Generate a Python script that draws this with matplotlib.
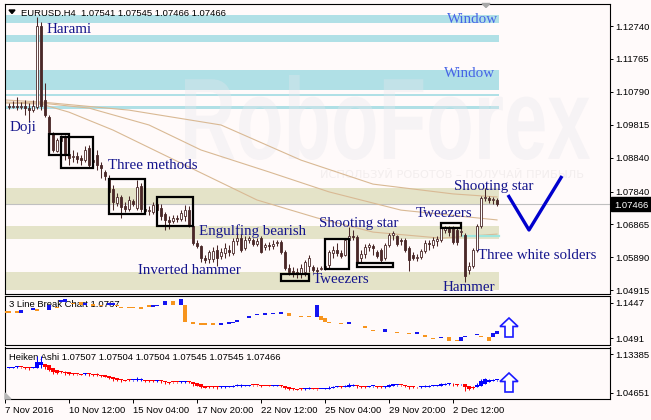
import numpy as np
import matplotlib
matplotlib.use("Agg")
import matplotlib.pyplot as plt
from matplotlib.patches import Rectangle, Polygon, PathPatch
from matplotlib.textpath import TextPath
from matplotlib.font_manager import FontProperties
from matplotlib.transforms import Affine2D, IdentityTransform

# ---------------- data: EURUSD H4 candles ----------------
opens = [1.1037, 1.1034, 1.1037, 1.1034, 1.1037, 1.1031, 1.1025, 1.1034, 1.1274, 1.1055,
         1.1005, 1.0957, 1.0904, 1.0934, 1.0946, 1.0895, 1.0886, 1.0889, 1.0883, 1.0877,
         1.0913, 1.0871, 1.0892, 1.0863, 1.0842, 1.0824, 1.0792, 1.0750, 1.0768, 1.0741,
         1.0732, 1.0756, 1.0735, 1.0800, 1.0732, 1.0726, 1.0723, 1.0747, 1.0735, 1.0718,
         1.0700, 1.0697, 1.0703, 1.0703, 1.0712, 1.0729, 1.0682, 1.0632, 1.0623, 1.0587,
         1.0584, 1.0584, 1.0611, 1.0593, 1.0602, 1.0611, 1.0602, 1.0638, 1.0646, 1.0617,
         1.0641, 1.0641, 1.0629, 1.0646, 1.0620, 1.0626, 1.0623, 1.0632, 1.0635, 1.0605,
         1.0558, 1.0549, 1.0546, 1.0540, 1.0546, 1.0564, 1.0561, 1.0552, 1.0555, 1.0558,
         1.0567, 1.0602, 1.0611, 1.0602, 1.0596, 1.0641, 1.0652, 1.0649, 1.0587, 1.0599,
         1.0620, 1.0623, 1.0605, 1.0611, 1.0587, 1.0626, 1.0655, 1.0652, 1.0641, 1.0641,
         1.0617, 1.0596, 1.0587, 1.0590, 1.0608, 1.0632, 1.0626, 1.0638, 1.0641, 1.0670,
         1.0676, 1.0676, 1.0670, 1.0664, 1.0655, 1.0552, 1.0564, 1.0611, 1.0682, 1.0765,
         1.0765, 1.0759, 1.0759]
highs = [1.1046, 1.1052, 1.1064, 1.1049, 1.1055, 1.1046, 1.1055, 1.1301, 1.1286, 1.1105,
         1.1011, 1.0960, 1.0943, 1.0951, 1.0951, 1.0913, 1.0907, 1.0901, 1.0892, 1.0919,
         1.0922, 1.0892, 1.0907, 1.0871, 1.0848, 1.0833, 1.0803, 1.0780, 1.0774, 1.0753,
         1.0771, 1.0762, 1.0818, 1.0809, 1.0738, 1.0741, 1.0753, 1.0759, 1.0747, 1.0723,
         1.0712, 1.0715, 1.0715, 1.0729, 1.0744, 1.0741, 1.0685, 1.0641, 1.0626, 1.0596,
         1.0611, 1.0620, 1.0626, 1.0617, 1.0632, 1.0626, 1.0646, 1.0664, 1.0658, 1.0652,
         1.0652, 1.0646, 1.0646, 1.0652, 1.0632, 1.0635, 1.0641, 1.0641, 1.0641, 1.0611,
         1.0570, 1.0561, 1.0558, 1.0570, 1.0581, 1.0596, 1.0567, 1.0561, 1.0564, 1.0570,
         1.0611, 1.0623, 1.0632, 1.0611, 1.0646, 1.0679, 1.0670, 1.0655, 1.0611, 1.0629,
         1.0632, 1.0629, 1.0611, 1.0617, 1.0632, 1.0661, 1.0667, 1.0655, 1.0646, 1.0646,
         1.0623, 1.0605, 1.0599, 1.0614, 1.0641, 1.0641, 1.0649, 1.0652, 1.0682, 1.0682,
         1.0682, 1.0682, 1.0676, 1.0676, 1.0661, 1.0575, 1.0617, 1.0688, 1.0771, 1.0795,
         1.0771, 1.0768, 1.0765]
lows = [1.1028, 1.1031, 1.1025, 1.1028, 1.1011, 1.0990, 1.1019, 1.1028, 1.1025, 1.1005,
        1.0957, 1.0901, 1.0901, 1.0916, 1.0877, 1.0863, 1.0871, 1.0868, 1.0863, 1.0871,
        1.0857, 1.0854, 1.0848, 1.0824, 1.0818, 1.0771, 1.0729, 1.0741, 1.0706, 1.0723,
        1.0726, 1.0741, 1.0729, 1.0723, 1.0721, 1.0715, 1.0718, 1.0721, 1.0700, 1.0670,
        1.0673, 1.0691, 1.0694, 1.0697, 1.0697, 1.0679, 1.0626, 1.0617, 1.0575, 1.0573,
        1.0573, 1.0575, 1.0564, 1.0584, 1.0587, 1.0593, 1.0596, 1.0626, 1.0605, 1.0611,
        1.0632, 1.0623, 1.0623, 1.0602, 1.0611, 1.0611, 1.0614, 1.0623, 1.0599, 1.0552,
        1.0537, 1.0531, 1.0528, 1.0528, 1.0534, 1.0546, 1.0546, 1.0543, 1.0552, 1.0552,
        1.0558, 1.0587, 1.0593, 1.0587, 1.0593, 1.0638, 1.0641, 1.0570, 1.0573, 1.0587,
        1.0608, 1.0596, 1.0587, 1.0573, 1.0581, 1.0620, 1.0641, 1.0623, 1.0626, 1.0605,
        1.0549, 1.0581, 1.0578, 1.0584, 1.0602, 1.0611, 1.0617, 1.0623, 1.0635, 1.0661,
        1.0652, 1.0629, 1.0626, 1.0652, 1.0516, 1.0540, 1.0558, 1.0605, 1.0676, 1.0756,
        1.0750, 1.0747, 1.0741]
closes = [1.1034, 1.1037, 1.1034, 1.1037, 1.1031, 1.1025, 1.1037, 1.1274, 1.1037, 1.1011,
          1.0960, 1.0907, 1.0937, 1.0946, 1.0895, 1.0883, 1.0889, 1.0880, 1.0877, 1.0907,
          1.0863, 1.0877, 1.0863, 1.0854, 1.0830, 1.0783, 1.0753, 1.0768, 1.0738, 1.0732,
          1.0759, 1.0747, 1.0797, 1.0732, 1.0726, 1.0729, 1.0744, 1.0729, 1.0712, 1.0700,
          1.0694, 1.0706, 1.0702, 1.0721, 1.0729, 1.0682, 1.0632, 1.0623, 1.0587, 1.0581,
          1.0605, 1.0608, 1.0587, 1.0605, 1.0617, 1.0605, 1.0638, 1.0646, 1.0611, 1.0641,
          1.0646, 1.0629, 1.0638, 1.0605, 1.0626, 1.0623, 1.0629, 1.0635, 1.0605, 1.0558,
          1.0546, 1.0543, 1.0540, 1.0558, 1.0575, 1.0587, 1.0552, 1.0549, 1.0558, 1.0564,
          1.0605, 1.0611, 1.0602, 1.0593, 1.0641, 1.0652, 1.0649, 1.0575, 1.0599, 1.0620,
          1.0626, 1.0617, 1.0593, 1.0581, 1.0626, 1.0655, 1.0661, 1.0629, 1.0638, 1.0611,
          1.0581, 1.0587, 1.0590, 1.0608, 1.0632, 1.0629, 1.0641, 1.0643, 1.0676, 1.0679,
          1.0664, 1.0635, 1.0635, 1.0667, 1.0534, 1.0564, 1.0611, 1.0682, 1.0765, 1.0768,
          1.0759, 1.0762, 1.07466]

# moving averages (sampled along the lines: bar index, price)
ma_slow_i = [-1, 8, 30, 53, 73, 91, 111, 122]
ma_slow_p = [1.1055, 1.1049, 1.1025, 1.0981, 1.0877, 1.0806, 1.0777, 1.0768]
ma_mid_i = [-1, 8, 20, 35, 48, 65, 80, 98, 122]
ma_mid_p = [1.1049, 1.1046, 1.1031, 1.0981, 1.0907, 1.0842, 1.0783, 1.0729, 1.0700]
ma_fast_i = [-1, 8, 15, 26, 47, 62, 77, 91, 108, 122]
ma_fast_p = [1.1046, 1.1043, 1.1019, 1.0966, 1.0845, 1.0759, 1.0706, 1.0664, 1.0646, 1.0658]

# support / resistance zones (low, high)
window_zones = [(1.1283, 1.1307), (1.1227, 1.1247), (1.1085, 1.1144), (1.1067, 1.1073), (1.1028, 1.1037)]
level_zones = [(1.0744, 1.0795), (1.0643, 1.0682), (1.0493, 1.0546)]

# pattern boxes: first bar, last bar, low, high
box_first = [11, 14, 26, 38, 69, 80, 88, 109]
box_last = [14, 20, 33, 45, 74, 84, 95, 112]
box_low = [1.0892, 1.0854, 1.0718, 1.0682, 1.0519, 1.0555, 1.0561, 1.0676]
box_high = [1.0954, 1.0946, 1.0821, 1.0768, 1.0540, 1.0643, 1.0573, 1.0691]

# 3 line break bricks: bar, low, high, up(1)/down(0)
lb_bar = [-1, 0, 2, 3, 6, 7, 10, 12, 13, 14, 16, 18, 19, 21, 23, 25, 26, 27, 28, 30,
          31, 33, 35, 36, 37, 39, 41, 43, 44, 46, 48, 49, 51, 53, 55, 56, 57, 60, 62, 64,
          66, 68, 70, 73, 75, 77, 78, 79, 80, 83, 85, 89, 91, 94, 97, 100, 102, 104, 106, 108,
          110, 112, 113, 114, 117, 118, 120, 121, 122]
lb_hi = [1.1222, 1.1222, 1.1209, 1.1249, 1.1303, 1.1276, 1.1385, 1.1331, 1.1520, 1.1547,
         1.1452, 1.1466, 1.1439, 1.1412, 1.1398, 1.1439, 1.1439, 1.1385, 1.1344, 1.1331,
         1.1331, 1.1317, 1.1385, 1.1385, 1.1398, 1.1493, 1.1493, 1.1547, 1.1385, 1.0924,
         1.0910, 1.0897, 1.0897, 1.0897, 1.0924, 1.0937, 1.0978, 1.1087, 1.1141, 1.1168,
         1.1168, 1.1195, 1.1168, 1.1087, 1.1087, 1.1385, 1.1087, 1.1033, 1.0924, 1.0897,
         1.0924, 1.0816, 1.0708, 1.0735, 1.0654, 1.0627, 1.0654, 1.0572, 1.0491, 1.0518,
         1.0518, 1.0437, 1.0518, 1.0545, 1.0600, 1.0545, 1.0518, 1.0627, 1.0681]
lb_lo = [1.1168, 1.1168, 1.1168, 1.1168, 1.1249, 1.1222, 1.1249, 1.1303, 1.1466, 1.1466,
         1.1412, 1.1385, 1.1385, 1.1371, 1.1358, 1.1385, 1.1398, 1.1358, 1.1303, 1.1303,
         1.1303, 1.1276, 1.1331, 1.1344, 1.1358, 1.1385, 1.1385, 1.1385, 1.0924, 1.0870,
         1.0856, 1.0843, 1.0843, 1.0843, 1.0883, 1.0897, 1.0937, 1.1033, 1.1101, 1.1114,
         1.1141, 1.1141, 1.1087, 1.1060, 1.1047, 1.1060, 1.0978, 1.0924, 1.0897, 1.0870,
         1.0870, 1.0762, 1.0681, 1.0654, 1.0627, 1.0600, 1.0600, 1.0518, 1.0464, 1.0491,
         1.0410, 1.0410, 1.0410, 1.0518, 1.0572, 1.0518, 1.0410, 1.0518, 1.0600]
lb_up = [0, 0, 0, 1, 1, 0, 1, 0, 1, 1, 0, 0, 1, 0, 0, 1, 1, 0, 0, 0,
         0, 0, 0, 1, 1, 1, 0, 1, 0, 0, 0, 0, 0, 1, 1, 1, 1, 1, 1, 1,
         1, 1, 0, 0, 0, 1, 0, 0, 0, 0, 1, 0, 0, 1, 0, 0, 1, 0, 0, 1,
         0, 0, 1, 1, 1, 0, 0, 1, 1]

price_ticks = [1.12740, 1.11765, 1.10790, 1.09815, 1.08840, 1.07840, 1.06865, 1.05890, 1.04915]
lb_ticks = [1.1447, 1.0491]
ha_ticks = [1.13385, 1.04651]
date_pos = [-1, 15, 31, 47, 63, 79, 95, 111]
date_labels = ["7 Nov 2016", "10 Nov 12:00", "15 Nov 04:00", "17 Nov 20:00",
               "22 Nov 12:00", "25 Nov 04:00", "29 Nov 20:00", "2 Dec 12:00"]
last_price = 1.07466

# ---------------- style ----------------
W, H = 651, 420
BG = "#fffafa"
CANDLE = "#4a2828"
LABEL = "#14148c"
plt.rcParams["font.family"] = ["Liberation Sans", "DejaVu Sans"]
SERIF = "Liberation Serif"

fig = plt.figure(figsize=(W / 100, H / 100), dpi=100)
fig.patch.set_facecolor(BG)


def px_axes(x0, y0, x1, y1):
    a = fig.add_axes([x0 / W, 1 - y1 / H, (x1 - x0) / W, (y1 - y0) / H])
    a.set_facecolor(BG)
    for s in a.spines.values():
        s.set_linewidth(0.8)
        s.set_color("black")
    a.set_xlim(-1.125, 150.125)
    a.yaxis.tick_right()
    a.tick_params(axis="y", direction="out", length=2.5, width=0.7, pad=1.5,
                  labelsize=6.8, colors="black")
    return a


def ptext(a, x, y, s, **kw):
    # text placed by pixel position (y from top)
    a.text(x, H - y, s, transform=IdentityTransform(), **kw)


ax = px_axes(4.5, 3.5, 609.5, 293.5)
ax_lb = px_axes(4.5, 296, 609.5, 345)
ax_ha = px_axes(4.5, 347.5, 609.5, 399)

ax.set_ylim(1.04822, 1.13406)
ax_lb.set_ylim(1.03015, 1.16284)
ax_ha.set_ylim(1.03307, 1.14841)

o = np.array(opens); h = np.array(highs); l = np.array(lows); c = np.array(closes)
n = len(c)
idx = np.arange(n)
right_edge = n - 0.5

# zones
for lo_, hi_ in window_zones:
    ax.add_patch(Rectangle((-1.125, lo_), right_edge + 1.125, hi_ - lo_, color="#b0e0e6", lw=0, zorder=1))
for lo_, hi_ in level_zones:
    ax.add_patch(Rectangle((-1.125, lo_), right_edge + 1.125, hi_ - lo_, color="#e4e3c8", lw=0, zorder=1))

# watermark
fp = FontProperties(family="Liberation Sans", weight="bold")
tp = TextPath((0, 0), "RoboForex", size=1, prop=fp)
ext = tp.get_extents()
wm_tr = Affine2D().translate(-ext.x0, -ext.y0).scale(405 / ext.width, 85 / ext.height).translate(185, H - 160)
ax.add_patch(PathPatch(wm_tr.transform_path(tp), transform=IdentityTransform(),
                       facecolor="#e6e6ec", edgecolor="none", alpha=0.35, zorder=1.5))
ptext(ax, 320, 178.5, "ИСПОЛЬЗУЙ РОБОТОВ – ПОЛУЧАЙ ПРИБЫЛЬ", fontsize=8.2,
      family="DejaVu Sans", color="#f3eeee", zorder=1.5)

# price line and moving averages
ax.axhline(last_price, color="#c0c0c0", lw=0.8, zorder=2)
for mi, mp in [(ma_slow_i, ma_slow_p), (ma_mid_i, ma_mid_p), (ma_fast_i, ma_fast_p)]:
    ax.plot(mi, mp, color="#d9b994", lw=0.8, zorder=2)
ax.plot([113.5, right_edge], [1.0652, 1.0652], color="#a0e6de", lw=1.6, zorder=2)

# candles
ax.vlines(idx, l, h, color=CANDLE, lw=0.75, zorder=3)
min_body = 0.0003
for i in idx:
    bot = min(o[i], c[i])
    ht = max(abs(c[i] - o[i]), min_body)
    bull = c[i] >= o[i]
    ax.add_patch(Rectangle((i - 0.35, bot), 0.7, ht, facecolor="white" if bull else CANDLE,
                           edgecolor=CANDLE, lw=0.6, zorder=4))

# pattern boxes
for b0, b1, blo, bhi in zip(box_first, box_last, box_low, box_high):
    ax.add_patch(Rectangle((b0 - 1.1, blo), b1 - b0 + 2.2, bhi - blo, fill=False,
                           edgecolor="black", lw=1.6, zorder=5))

# labels
lab = dict(family=SERIF, fontsize=10.8, color=LABEL, zorder=6)
ptext(ax, 47, 33, "Harami", **lab)
ptext(ax, 10, 131, "Doji", **lab)
ptext(ax, 108, 169, "Three methods", **lab)
ptext(ax, 199, 235, "Engulfing bearish", **lab)
ptext(ax, 138, 274, "Inverted hammer", **lab)
ptext(ax, 319, 227, "Shooting star", **lab)
ptext(ax, 313, 283, "Tweezers", **lab)
ptext(ax, 416, 217, "Tweezers", **lab)
ptext(ax, 454, 190, "Shooting star", **lab)
ptext(ax, 478, 259, "Three white solders", **lab)
ptext(ax, 443, 291, "Hammer", **lab)
ptext(ax, 498, 23, "Window", ha="right", family=SERIF, fontsize=10.8, color="#4664e6", zorder=6)
ptext(ax, 495, 77, "Window", ha="right", family=SERIF, fontsize=10.8, color="#4664e6", zorder=6)

# expected move "V"
ax.plot([508, 529, 562], [H - 195, H - 230, H - 176], color="#0000cd", lw=2.4,
        transform=IdentityTransform(), zorder=6, solid_capstyle="butt")

ax.set_yticks(price_ticks)
ax.set_yticklabels([f"{t:.5f}" for t in price_ticks])
ax.set_xticks([])

# ---------------- 3 line break panel ----------------
for b, lo_, hi_, u in zip(lb_bar, lb_lo, lb_hi, lb_up):
    ax_lb.add_patch(Rectangle((b - 0.45, lo_), 0.9, max(hi_ - lo_, 0.0027),
                              color="#1414f0" if u else "#f7941d", lw=0, zorder=3))
ptext(ax_lb, 9, 307, "3 Line Break Chart 1.0767", fontsize=6.8, zorder=2)
ax_lb.set_yticks(lb_ticks)
ax_lb.set_yticklabels([f"{t:.4f}" for t in lb_ticks])
ax_lb.set_xticks([])

# ---------------- Heiken Ashi panel ----------------
ha_c = (o + h + l + c) / 4
ha_o = np.zeros(n)
ha_o[0] = (o[0] + c[0]) / 2
for i in range(1, n):
    ha_o[i] = (ha_o[i - 1] + ha_c[i - 1]) / 2
ha_h = np.maximum(h, np.maximum(ha_o, ha_c))
ha_l = np.minimum(l, np.minimum(ha_o, ha_c))
ha_col = np.where(ha_c >= ha_o, "#0000ff", "#ff0000")
ax_ha.vlines(idx, ha_l, ha_h, colors=ha_col, lw=0.7, zorder=3)
for i in idx:
    bot = min(ha_o[i], ha_c[i])
    ax_ha.add_patch(Rectangle((i - 0.4, bot), 0.8, max(abs(ha_c[i] - ha_o[i]), 0.0022),
                              color=ha_col[i], lw=0, zorder=3))
ptext(ax_ha, 9, 360, "Heiken Ashi 1.07507 1.07504 1.07504 1.07545 1.07545 1.07466",
      fontsize=6.8, zorder=2)
ax_ha.set_yticks(ha_ticks)
ax_ha.set_yticklabels([f"{t:.5f}" for t in ha_ticks])
ax_ha.set_xticks(date_pos)
ax_ha.set_xticklabels(date_labels, ha="left")
ax_ha.tick_params(axis="x", direction="out", length=3, width=0.7, pad=2, labelsize=6.8)

# arrows in the indicator panels
for ytip in (318, 373):
    pts = [(509, ytip), (518, ytip + 8.5), (513, ytip + 8.5), (513, ytip + 19),
           (505, ytip + 19), (505, ytip + 8.5), (500, ytip + 8.5)]
    fig.add_artist(Polygon([(x, H - y) for x, y in pts], closed=True, facecolor="white",
                           edgecolor="#1a1aff", lw=1.2, transform=IdentityTransform()))

# header, marks and current price tag
fig.add_artist(Polygon([(9, H - 10), (15, H - 10), (12, H - 13.5)], color="black",
                       transform=IdentityTransform()))
fig.text(21 / W, 1 - 15.5 / H, "EURUSD.H4  1.07541 1.07545 1.07466 1.07466", fontsize=6.8)
fig.add_artist(Polygon([(482, H - 3.5), (490, H - 3.5), (486, H - 7.5)], color="#a8a8a8",
                       transform=IdentityTransform()))
fig.add_artist(Polygon([(5, H - 399), (11, H - 399), (5, H - 393)], color="#b8b8b8",
                       transform=IdentityTransform()))
fig.add_artist(Rectangle((611, H - 211), 40, 14, color="black", transform=IdentityTransform()))
fig.text(614 / W, 1 - 207.5 / H, f"{last_price:.5f}", color="white", fontsize=6.8)

fig.savefig("out.png", dpi=100, facecolor=BG)
